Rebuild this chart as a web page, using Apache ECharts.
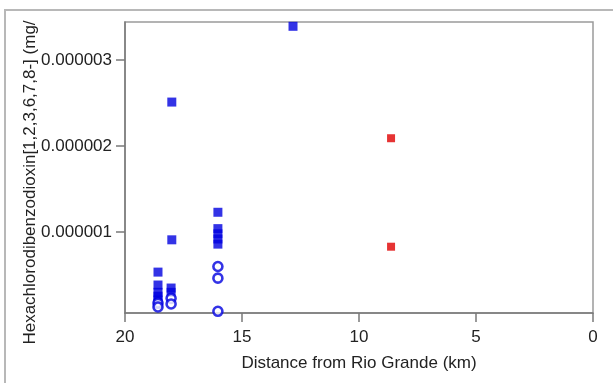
<!DOCTYPE html>
<html>
<head>
<meta charset="utf-8">
<script src="https://cdn.jsdelivr.net/npm/echarts@6/dist/echarts.min.js"></script>
<style>
html,body{margin:0;padding:0;background:#fff;}
#chart{width:613px;height:383px;}
</style>
</head>
<body>
<div id="chart"></div>
<script>
// Distance (km) and concentration values
const filledBlue = [
  [12.82, 0.00000339], [18.0, 0.00000251], [18.0, 0.00000091],
  [16.03, 0.00000123], [16.03, 0.00000104], [16.03, 0.00000098], [16.03, 0.00000092], [16.03, 0.00000086],
  [18.59, 0.000000535], [18.59, 0.000000385], [18.59, 0.00000030], [18.59, 0.000000255],
  [18.59, 0.00000021], [18.59, 0.000000165],
  [18.03, 0.00000035], [18.03, 0.00000030]
];
const openBlue = [
  [16.03, 0.00000060], [16.03, 0.000000465], [16.03, 0.00000008],
  [18.59, 0.000000175], [18.59, 0.00000013],
  [18.03, 0.00000023], [18.03, 0.000000165]
];
const filledRed = [
  [8.63, 0.00000209], [8.63, 0.00000083]
];
const xTicks = [0, 5, 10, 15, 20];
const yTicks = [0.000001, 0.000002, 0.000003];
const xTitle = 'Distance from Rio Grande (km)';
const yTitle = 'Hexachlorodibenzodioxin[1,2,3,6,7,8-] (mg/';

const chart = echarts.init(document.getElementById('chart'), null, {renderer: 'canvas'});
const font = 'Liberation Sans, Arial, sans-serif';
const axisColor = '#7a7a7a';
chart.setOption({
  animation: false,
  backgroundColor: '#fff',
  graphic: [
    {type: 'polyline', shape: {points: [[5, 400], [5, 10], [620, 10]]},
     style: {stroke: '#b8b8b8', lineWidth: 2, fill: null}, silent: true}
  ],
  grid: {left: 125, right: 20, top: 22, bottom: 70, show: true, borderColor: '#9a9a9a', borderWidth: 1.5, backgroundColor: 'transparent'},
  xAxis: {
    type: 'value', inverse: true, min: 0, max: 20, interval: 5,
    name: xTitle, nameLocation: 'middle', nameGap: 42, nameMoveOverlap: false,
    nameTextStyle: {fontFamily: font, fontSize: 17, color: '#222'},
    axisLine: {show: true, onZero: false, lineStyle: {color: axisColor, width: 1.5}},
    axisTick: {show: true, inside: false, length: 9, lineStyle: {color: axisColor, width: 1.5}},
    axisLabel: {fontFamily: font, fontSize: 17, color: '#222', margin: 16},
    splitLine: {show: false}
  },
  yAxis: {
    type: 'value', min: 0.00000006, max: 0.00000344,
    name: yTitle, nameLocation: 'middle', nameGap: 86, nameRotate: 90, nameMoveOverlap: false,
    nameTextStyle: {fontFamily: font, fontSize: 17, color: '#222', padding: [0, 30, 0, 0]},
    axisLine: {show: true, onZero: false, lineStyle: {color: axisColor, width: 1.5}},
    axisTick: {show: true, inside: false, length: 9, customValues: yTicks, lineStyle: {color: axisColor, width: 1.5}},
    axisLabel: {fontFamily: font, fontSize: 17, color: '#222', margin: 13, customValues: yTicks,
      formatter: v => v.toFixed(6)},
    splitLine: {show: false}
  },
  series: [
    {type: 'scatter', name: 'filled', data: filledBlue, symbol: 'rect', symbolSize: 9,
     itemStyle: {color: '#0000e0'}},
    {type: 'scatter', name: 'open', data: openBlue, symbol: 'circle', symbolSize: 9,
     itemStyle: {color: '#fff', borderColor: '#0000e0', borderWidth: 2.6}},
    {type: 'scatter', name: 'red', data: filledRed, symbol: 'rect', symbolSize: 8,
     itemStyle: {color: '#e00000'}}
  ]
});
</script>
</body>
</html>
